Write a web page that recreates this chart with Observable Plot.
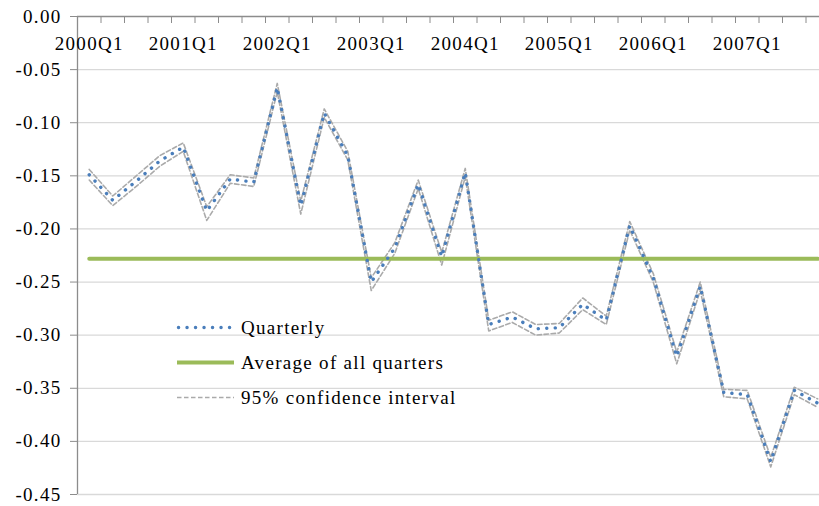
<!DOCTYPE html>
<html><head><meta charset="utf-8">
<script src="https://cdn.jsdelivr.net/npm/d3@7"></script>
<script src="https://cdn.jsdelivr.net/npm/@observablehq/plot@0.6"></script>
<style>
html,body{margin:0;padding:0;background:#fff;overflow:hidden;}
#wrap{position:relative;width:819px;height:506px;overflow:hidden;}
#wrap svg{overflow:hidden;}
#wrap text{font-family:"Liberation Serif","Times New Roman",serif;letter-spacing:1.3px;}
#legend{position:absolute;left:0;top:0;}
</style></head><body><div id="wrap"></div>
<script>
const quarters = [
  "2000Q1","2000Q2","2000Q3","2000Q4","2001Q1","2001Q2","2001Q3","2001Q4",
  "2002Q1","2002Q2","2002Q3","2002Q4","2003Q1","2003Q2","2003Q3","2003Q4",
  "2004Q1","2004Q2","2004Q3","2004Q4","2005Q1","2005Q2","2005Q3","2005Q4",
  "2006Q1","2006Q2","2006Q3","2006Q4","2007Q1","2007Q2","2007Q3","2007Q4"];
const quarterly = [
  -0.149,-0.173,-0.155,-0.136,-0.123,-0.183,-0.153,-0.156,
  -0.067,-0.178,-0.091,-0.131,-0.250,-0.218,-0.158,-0.226,
  -0.147,-0.290,-0.283,-0.294,-0.293,-0.271,-0.286,-0.197,
  -0.246,-0.320,-0.254,-0.354,-0.356,-0.419,-0.352,-0.364];
const ciUpper = [
  -0.144,-0.169,-0.150,-0.131,-0.119,-0.179,-0.149,-0.152,
  -0.063,-0.174,-0.087,-0.127,-0.246,-0.213,-0.154,-0.222,
  -0.143,-0.286,-0.278,-0.290,-0.289,-0.265,-0.282,-0.193,
  -0.242,-0.316,-0.250,-0.351,-0.352,-0.415,-0.349,-0.360];
const ciLower = [
  -0.154,-0.178,-0.160,-0.141,-0.127,-0.192,-0.157,-0.160,
  -0.071,-0.186,-0.095,-0.135,-0.258,-0.223,-0.162,-0.234,
  -0.151,-0.296,-0.288,-0.300,-0.298,-0.276,-0.290,-0.201,
  -0.250,-0.327,-0.258,-0.358,-0.360,-0.424,-0.356,-0.368];
const averageAll = -0.228;
const yTicks = [0,-0.05,-0.10,-0.15,-0.20,-0.25,-0.30,-0.35,-0.40,-0.45];
const legendLabels = ["Quarterly","Average of all quarters","95% confidence interval"];

const colors = {blue:"#4a7ebb", green:"#9bbb59", ci:"#aaaaaa", axis:"#8c8c8c", grid:"#d9d9d9"};

const rows = quarters.map((q,i)=>({i, q, v: quarterly[i], up: ciUpper[i], lo: ciLower[i], avg: averageAll}));
const labelIdx = rows.filter(d=>d.q.endsWith("Q1")).map(d=>d.i);
const boundaries = d3.range(-0.5, quarters.length, 1);

const n = quarters.length;
const chart = Plot.plot({
  width: 819, height: 506,
  marginLeft: 77, marginTop: 16, marginBottom: 12, marginRight: 0,
  x: {domain: [-0.5, n - 0.5], range: [77, 77 + 23.5*n], axis: null},
  y: {domain: [-0.45, 0], axis: null},
  style: {fontFamily: "Liberation Serif, Times New Roman, serif", fontSize: "19px", color: "#000", background: "#fff"},
  marks: [
    Plot.gridY(yTicks.filter(t=>t<0), {stroke: colors.grid, strokeOpacity: 1, strokeWidth: 1.3}),
    Plot.ruleY([0], {stroke: colors.axis, strokeWidth: 1.3}),
    Plot.ruleX([-0.5], {stroke: colors.axis, strokeWidth: 1.3}),
    Plot.axisY(yTicks, {tickSize: 7, tickPadding: 9, tickFormat: d => d.toFixed(2), stroke: colors.axis, fill: "#000", fontSize: 19, label: null}),
    Plot.axisX(boundaries, {anchor: "top", tickSize: 6, dy: 6, tickFormat: () => "", stroke: colors.axis, label: null}),
    Plot.text(labelIdx, {x: d => d, y: () => 0, text: d => quarters[d], dy: 27, lineAnchor: "middle", fill: "#000", fontSize: 19}),
    Plot.line(rows, {x: "i", y: "up", stroke: colors.ci, strokeWidth: 1.6, strokeDasharray: "4.5 2.5"}),
    Plot.line(rows, {x: "i", y: "lo", stroke: colors.ci, strokeWidth: 1.6, strokeDasharray: "4.5 2.5"}),
    Plot.line(rows, {x: "i", y: "avg", stroke: colors.green, strokeWidth: 4}),
    Plot.line(rows, {x: "i", y: "v", stroke: colors.blue, strokeWidth: 3.4, strokeDasharray: "0.1 8.4", strokeLinecap: "round", strokeLinejoin: "round"})
  ]
});
const wrap = document.getElementById("wrap");
wrap.appendChild(chart);

// legend overlay
const leg = d3.select(wrap).append("svg").attr("id","legend").attr("width",819).attr("height",506);
const items = [
  {label: legendLabels[0], stroke: colors.blue, width: 3.4, dash: "0.1 8.4", cap: "round"},
  {label: legendLabels[1], stroke: colors.green, width: 4, dash: null, cap: "butt"},
  {label: legendLabels[2], stroke: colors.ci, width: 1.6, dash: "4.5 2.5", cap: "butt"}
];
items.forEach((it, k) => {
  const y = 327.5 + k*35;
  leg.append("line").attr("x1", it.cap === "round" ? 178.5 : 177).attr("x2", 234).attr("y1", y).attr("y2", y)
    .attr("stroke", it.stroke).attr("stroke-width", it.width).attr("stroke-linecap", it.cap)
    .attr("stroke-dasharray", it.dash);
  leg.append("text").attr("x", 241).attr("y", y + 6.8).attr("font-size", 19).attr("fill", "#000").text(it.label);
});
</script></body></html>
